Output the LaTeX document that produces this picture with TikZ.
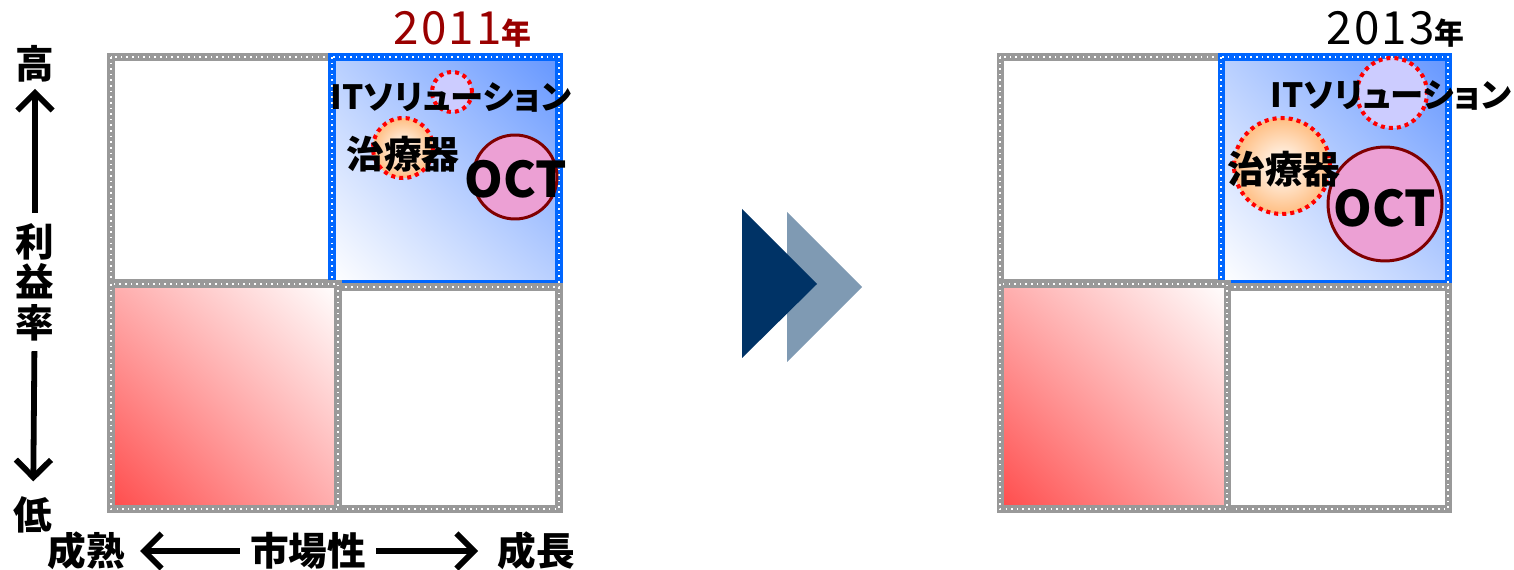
\documentclass[tikz,border=0pt]{standalone}
\usepackage{fontspec}
\setmainfont{Noto Sans CJK JP}
\newfontfamily\jpp[RawFeature=+palt]{Noto Sans CJK JP}
\newfontfamily\yearfont[LetterSpace=5]{Noto Sans CJK JP}
\usetikzlibrary{positioning,arrows.meta,calc,shadings}

\definecolor{boxgray}{RGB}{153,153,153}
\definecolor{boxblue}{RGB}{0,102,255}
\definecolor{skyblue}{RGB}{100,150,255}
\definecolor{softred}{RGB}{255,75,75}
\definecolor{yearred}{RGB}{153,0,0}
\definecolor{lavender}{RGB}{204,204,255}
\definecolor{peach}{RGB}{255,190,130}
\definecolor{octpink}{RGB}{236,160,212}
\definecolor{octrim}{RGB}{128,0,0}
\definecolor{navy}{RGB}{0,51,102}
\definecolor{navylight}{RGB}{127,154,179}

\begin{document}
\begin{tikzpicture}[x=0.02cm,y=-0.02cm,
	quad/.style={line width=4pt,draw=#1,postaction={draw=white,line width=0.9pt,dash pattern=on 0.9pt off 2.3pt}},
	quad/.default=boxgray,
	ring/.style={circle,draw=red,line width=2.3pt,dash pattern=on 2.3pt off 2.3pt,inner sep=0pt},
	octc/.style={circle,draw=octrim,line width=1.7pt,fill=octpink,inner sep=0pt},
	item/.style={font=\jpp\bfseries\fontsize{#1}{#1}\selectfont,inner sep=0pt},
	year/.style={font=\yearfont\fontsize{26}{26}\selectfont,anchor=base east,inner sep=0pt},
	axis/.style={font=\bfseries\fontsize{22}{23}\selectfont,inner sep=0pt,align=center},
	axisarr/.style={line width=3.3pt,-{Straight Barb[length=10pt,width=20pt,line width=3.3pt]}}
]
\useasboundingbox (0,0) rectangle (1514,570);

\foreach \dx in {0,889}{
	\shade[upper right=skyblue,lower left=white,upper left=skyblue!45,lower right=skyblue!45]
		(\dx+332,57) rectangle (\dx+559,284);
	\draw[quad] (\dx+111,57) rectangle (\dx+332,283);
	\draw[quad=boxblue] (\dx+332,57) rectangle (\dx+559,284);
	\draw[quad] (\dx+338,287) rectangle (\dx+559,509);
	\shade[upper right=white,lower left=softred,upper left=softred!45,lower right=softred!45]
		(\dx+111,284) rectangle (\dx+338,509);
	\draw[quad] (\dx+111,284) rectangle (\dx+338,509);
}

\node[year,text=yearred] (y11) at (532,45) {2011{\normalfont\bfseries\fontsize{17}{17}\selectfont 年}};
\node[year] (y13) at (1465,45) {2013{\normalfont\bfseries\fontsize{17}{17}\selectfont 年}};

\node[ring,fill=lavender,minimum size=0.8cm] (it11c) at (452,92) {};
\node[ring,inner color=white,outer color=peach,minimum size=1.2cm] (tr11c) at (403,148) {};
\node[octc,minimum size=1.68cm] (oct11c) at (515,177) {};
\node[item=28] (oct11) at (516,179) {OCT};
\node[item=19] (it11) at (451,97) {ITソリューション};
\node[item=21.5] (tr11) at (403,154) {治療器};

\node[ring,fill=lavender,minimum size=1.4cm] (it13c) at (1392,93) {};
\node[ring,inner color=white,outer color=peach,minimum size=1.92cm] (tr13c) at (1282,166) {};
\node[octc,minimum size=2.28cm] (oct13c) at (1385,204) {};
\node[item=28] (oct13) at (1385,208) {OCT};
\node[item=19] (it13) at (1391,95) {ITソリューション};
\node[item=21.5] (tr13) at (1284,169) {治療器};

\fill[navylight] (787,212) -- (862,287) -- (787,362) -- cycle;
\fill[navy] (742,209) -- (817,284) -- (742,358) -- cycle;

\node[axis] (high) at (35,64) {高};
\node[axis] (rate) at (35,282) {利\\益\\率};
\node[axis] (low) at (33,515) {低};
\node[axis] (mature) at (86,551) {成熟};
\node[axis] (market) at (308,551) {市場性};
\node[axis] (growth) at (536,551) {成長};

\draw[axisarr,shorten <=0.2cm,shorten >=0.12cm] (rate) -- (high);
\draw[axisarr,shorten <=0.2cm,shorten >=0.3cm] (rate) -- (low);
\draw[axisarr,shorten <=0.2cm,shorten >=0.3cm] (market) -- (mature);
\draw[axisarr,shorten <=0.2cm,shorten >=0.38cm] (market) -- (growth);
\end{tikzpicture}
\end{document}
